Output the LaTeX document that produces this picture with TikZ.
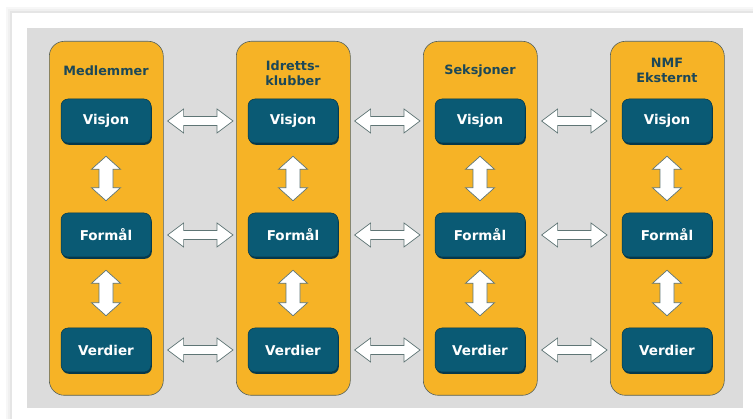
\documentclass[tikz,border=0pt]{standalone}
\usepackage{fontspec}
\setmainfont{DejaVu Sans}
\usetikzlibrary{calc}
\definecolor{orng}{HTML}{F6B326}
\definecolor{tealbox}{HTML}{0A5A74}
\definecolor{tealdark}{HTML}{06384A}
\definecolor{ttl}{HTML}{1C4858}
\definecolor{panel}{HTML}{DCDCDC}
\definecolor{coledge}{HTML}{56625C}
\definecolor{arredge}{HTML}{5F7575}
\newcommand\hdarr[3]{%
  \draw[arr] let \p1=(#1.east), \p2=(#2.west), \p3=(#3) in
   (\x1+4pt,\y3) -- (\x1+20pt,\y3+12pt) -- (\x1+20pt,\y3+4.5pt) -- (\x2-19pt,\y3+4.5pt)
   -- (\x2-19pt,\y3+12pt) -- (\x2-3pt,\y3) -- (\x2-19pt,\y3-12pt) -- (\x2-19pt,\y3-4.5pt)
   -- (\x1+20pt,\y3-4.5pt) -- (\x1+20pt,\y3-12pt) -- cycle;}
\newcommand\vdarr[2]{%
  \draw[arr] let \p1=(#1.south), \p2=(#2.north) in
   (\x1,\y1-13pt) -- (\x1+14.5pt,\y1-26pt) -- (\x1+7pt,\y1-26pt) -- (\x1+7pt,\y2+25pt)
   -- (\x1+14.5pt,\y2+25pt) -- (\x1,\y2+12pt) -- (\x1-14.5pt,\y2+25pt) -- (\x1-7pt,\y2+25pt)
   -- (\x1-7pt,\y1-26pt) -- (\x1-14.5pt,\y1-26pt) -- cycle;}
\begin{document}
\begin{tikzpicture}[x=1pt,y=-1pt,
  col/.style={draw=coledge, fill=orng, rounded corners=15pt, minimum width=114pt,
    minimum height=354pt, anchor=north west, line width=0.6pt, inner sep=0pt},
  box/.style={fill=tealbox, draw=tealdark, line width=0.5pt, rounded corners=7pt,
    minimum width=90pt, minimum height=44pt, inner sep=0pt, text=white,
    font=\bfseries\fontsize{13.5}{15}\selectfont},
  boxshadow/.style={fill=tealdark, rounded corners=7pt, minimum width=90pt,
    minimum height=44pt, inner sep=0pt},
  ttlt/.style={text=ttl, align=center, inner sep=0pt,
    font=\bfseries\fontsize{12.8}{15}\selectfont},
  arr/.style={draw=arredge, fill=white, line width=0.7pt, line join=miter}]
\useasboundingbox (0,0) rectangle (753,419);
\fill[white] (0,0) rectangle (753,419);
% soft frame shadow
\fill[black!3] (6,7) rectangle (753,419);
\fill[black!6] (8,9) rectangle (753,419);
\fill[black!10] (10,11) rectangle (753,419);
\fill[white] (12,13) rectangle (753,419);
% grey panel
\fill[panel] (27,28) rectangle (743,408);
% columns
\foreach \i/\x in {1/49,2/236,3/423,4/610}{
  \node[col] (c\i) at (\x,41) {};
}
% titles
\node[ttlt] (t1) at (106,71) {Medlemmer};
\node[ttlt] (t2) at (293,73.5) {Idretts-\\klubber};
\node[ttlt] (t3) at (480,71) {Seksjoner};
\node[ttlt] (t4) at (667,70.5) {NMF\\Eksternt};
% boxes
\foreach \i/\x in {1/106,2/293,3/480,4/667}{
  \foreach \r/\y/\t in {1/121/Visjon,2/235/Formål,3/350/Verdier}{
    \node[boxshadow] at (\x+0.8,\y+1.8) {};
    \node[box] (b\i\r) at (\x,\y) {\t};
  }
}
% vertical arrows
\foreach \i in {1,2,3,4}{
  \vdarr{b\i1}{b\i2}
  \vdarr{b\i2}{b\i3}
}
% horizontal arrows
\foreach \i/\j in {1/2,2/3,3/4}{
  \foreach \r in {1,2,3}{
    \hdarr{c\i}{c\j}{b\i\r}
  }
}
\end{tikzpicture}
\end{document}
